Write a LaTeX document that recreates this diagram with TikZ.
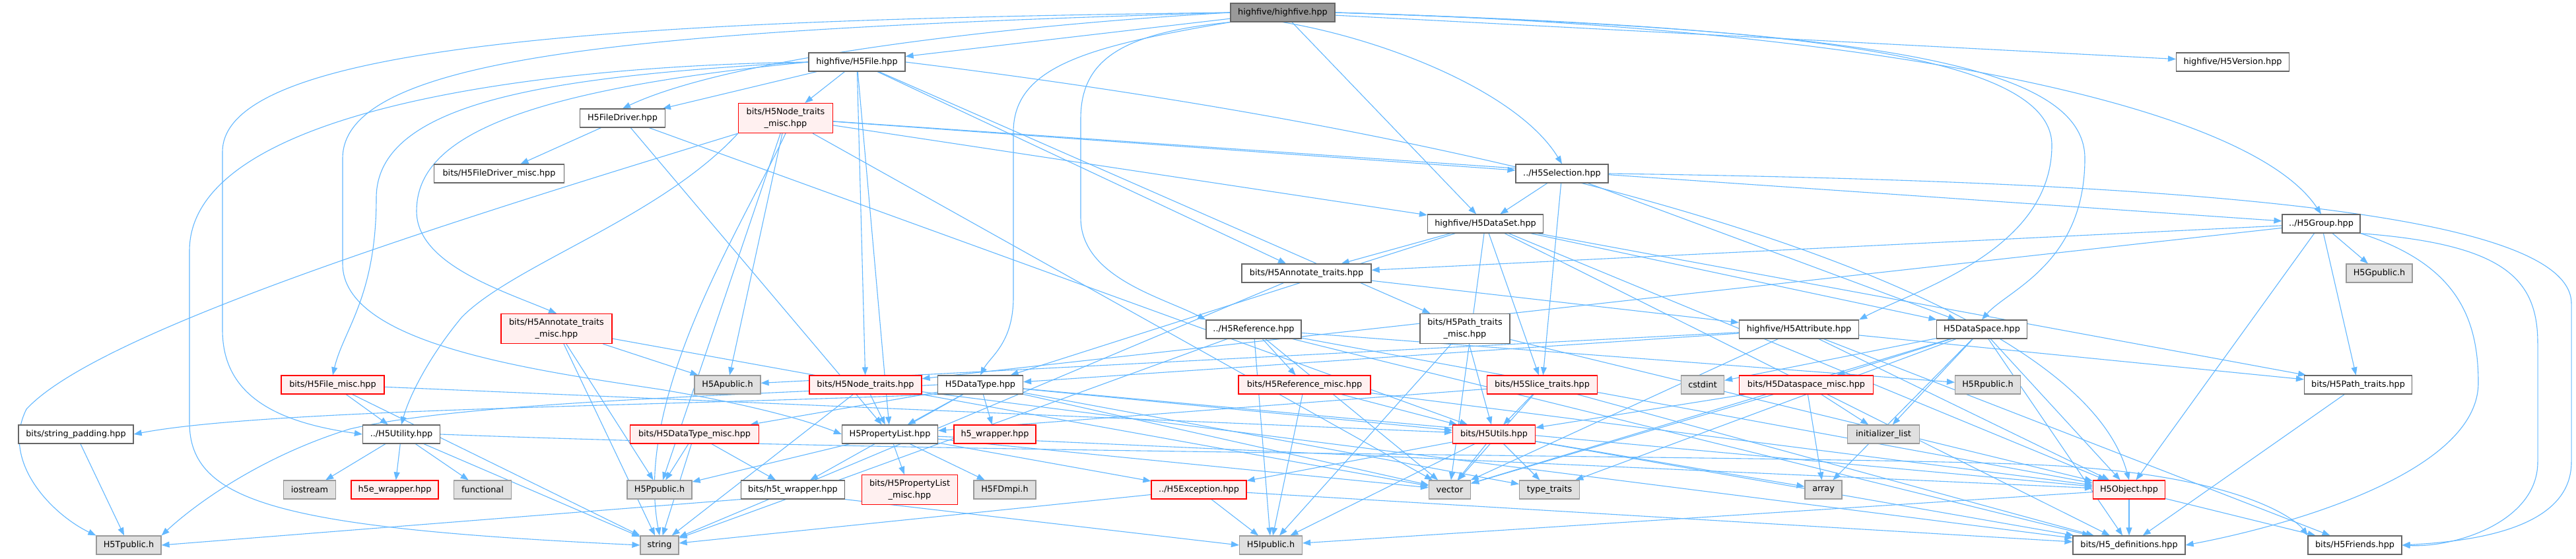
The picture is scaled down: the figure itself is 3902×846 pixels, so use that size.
\documentclass[tikz,border=0pt]{standalone}
\usepackage{fontspec}
\setmainfont{DejaVu Sans}
\usetikzlibrary{arrows.meta,backgrounds}
\definecolor{edgec}{HTML}{63B8FF}
\definecolor{nbord}{HTML}{666666}
\definecolor{gbord}{HTML}{999999}
\definecolor{gfill}{HTML}{E0E0E0}
\definecolor{rfill}{HTML}{FFF0F0}
\definecolor{rbord}{HTML}{FF0000}
\definecolor{rootfill}{HTML}{999999}
\begin{document}
\begin{tikzpicture}[x=1pt,y=-1pt,
  font=\fontsize{12.8}{17.5}\selectfont,
  nb/.style={draw=nbord,fill=white,line width=1.2pt,minimum height=28pt,inner sep=1pt,text=black},
  nred/.style={nb,draw=rbord,fill=rfill},
  ngray/.style={nb,draw=gbord,fill=gfill},
  nroot/.style={nb,fill=rootfill},
  two/.style={minimum height=45pt,align=center},
  e/.style={draw=edgec,line width=1.1pt,-{Triangle[length=12pt,width=9pt]}}]
\useasboundingbox (0,0) rectangle (3902,846);
% row 0
\node[nroot,minimum width=158pt] (root) at (1943,19) {highfive/highfive.hpp};
% row 1
\node[nb,minimum width=146pt] (file) at (1298,94) {highfive/H5File.hpp};
\node[nb,minimum width=171pt] (ver) at (3382,94) {highfive/H5Version.hpp};
% row 2
\node[nred,two,minimum width=143pt] (ntm) at (1190,179) {bits/H5Node\_traits\\\_misc.hpp};
\node[nb,minimum width=129pt] (fdrv) at (943,179) {H5FileDriver.hpp};
% row 3
\node[nb,minimum width=197pt] (fdm) at (756,263) {bits/H5FileDriver\_misc.hpp};
\node[nb,minimum width=140pt] (sel) at (2366,263) {../H5Selection.hpp};
% row 4
\node[nb,minimum width=175pt] (dset) at (2250,339) {highfive/H5DataSet.hpp};
\node[nb,minimum width=118pt] (grp) at (3516,339) {../H5Group.hpp};
% row 5
\node[nb,minimum width=196pt] (at) at (1979,414) {bits/H5Annotate\_traits.hpp};
\node[ngray,minimum width=100pt] (gpub) at (3604,414) {H5Gpublic.h};
% row 6
\node[nred,two,minimum width=168pt] (atm) at (843,498) {bits/H5Annotate\_traits\\\_misc.hpp};
\node[nb,minimum width=144pt] (ref) at (1899,499) {../H5Reference.hpp};
\node[nb,two,minimum width=136pt] (ptm) at (2219,498) {bits/H5Path\_traits\\\_misc.hpp};
\node[nb,minimum width=181pt] (attr) at (2725,499) {highfive/H5Attribute.hpp};
\node[nb,minimum width=137pt] (dspace) at (3002,499) {H5DataSpace.hpp};
% row 7
\node[nred,minimum width=156pt] (filemisc) at (504,583) {bits/H5File\_misc.hpp};
\node[ngray,minimum width=100pt] (apub) at (1102,583) {H5Apublic.h};
\node[nred,minimum width=170pt] (nt) at (1311,583) {bits/H5Node\_traits.hpp};
\node[nb,minimum width=129pt] (dtype) at (1485,583) {H5DataType.hpp};
\node[nred,minimum width=200pt] (refm) at (1976,583) {bits/H5Reference\_misc.hpp};
\node[nred,minimum width=167pt] (slice) at (2336,583) {bits/H5Slice\_traits.hpp};
\node[ngray,minimum width=65pt] (cstdint) at (2579,583) {cstdint};
\node[nred,minimum width=203pt] (dsm) at (2736,583) {bits/H5Dataspace\_misc.hpp};
\node[ngray,minimum width=99pt] (rpub) at (3011,583) {H5Rpublic.h};
\node[nb,minimum width=163pt] (pt) at (3572,583) {bits/H5Path\_traits.hpp};
% row 8
\node[nb,minimum width=174pt] (strpad) at (115,658) {bits/string\_padding.hpp};
\node[nb,minimum width=117pt] (util) at (608,658) {../H5Utility.hpp};
\node[nred,minimum width=195pt] (dtm) at (1052,658) {bits/H5DataType\_misc.hpp};
\node[nb,minimum width=145pt] (plist) at (1348,658) {H5PropertyList.hpp};
\node[nred,minimum width=124pt] (h5w) at (1507,658) {h5\_wrapper.hpp};
\node[nred,minimum width=125pt] (utils) at (2263,658) {bits/H5Utils.hpp};
\node[ngray,minimum width=109pt] (initl) at (2853,658) {initializer\_list};
% row 9
\node[ngray,minimum width=79pt] (iostream) at (469,742) {iostream};
\node[nred,minimum width=132pt] (h5ew) at (598,742) {h5e\_wrapper.hpp};
\node[ngray,minimum width=87pt] (functional) at (731,742) {functional};
\node[ngray,minimum width=98pt] (ppub) at (999,742) {H5Ppublic.h};
\node[nb,minimum width=157pt] (h5tw) at (1201,742) {bits/h5t\_wrapper.hpp};
\node[nred,two,minimum width=145pt] (plm) at (1378,742) {bits/H5PropertyList\\\_misc.hpp};
\node[ngray,minimum width=94pt] (fdmpi) at (1522,742) {H5FDmpi.h};
\node[nred,minimum width=144pt] (exc) at (1816,742) {../H5Exception.hpp};
\node[ngray,minimum width=63pt] (vector) at (2196,742) {vector};
\node[ngray,minimum width=91pt] (tt) at (2347,742) {type\_traits};
\node[ngray,minimum width=56pt] (array) at (2762,742) {array};
\node[nred,minimum width=109pt] (obj) at (3225,742) {H5Object.hpp};
% row 10
\node[ngray,minimum width=98pt] (tpub) at (195,826) {H5Tpublic.h};
\node[ngray,minimum width=58pt] (string) at (999,826) {string};
\node[ngray,minimum width=95pt] (ipub) at (1925,826) {H5Ipublic.h};
\node[nb,minimum width=170pt] (defs) at (3225,826) {bits/H5\_definitions.hpp};
\node[nb,minimum width=142pt] (friends) at (3567,826) {bits/H5Friends.hpp};
\begin{pgfonlayer}{background}
\fill[white] (0,0) rectangle (3902,846);
% routed connectors
\draw[e] (root.west) .. controls (1000,30) and (337,60) .. (337,230) -- (337,500) .. controls (337,600) and (420,640) .. (util.west);
\draw[e] (root.west) .. controls (1000,45) and (519,80) .. (519,240) -- (519,400) .. controls (519,520) and (800,560) .. (1000,590) .. controls (1150,615) and (1230,640) .. (plist.west);
\draw[e] (root.west) .. controls (1500,40) and (1100,90) .. (fdrv.north);
\draw[e] (root.south west) .. controls (1700,50) and (1637,90) .. (1637,180) -- (1637,330) .. controls (1637,420) and (1760,450) .. (ref.north west);
\draw[e] (root.south west) .. controls (1650,70) and (1535,100) .. (1535,200) -- (1535,450) .. controls (1535,520) and (1500,540) .. (dtype.north);
\draw[e] (root.south) .. controls (2100,60) and (2300,140) .. (sel.north);
\draw[e] (root.east) .. controls (2800,40) and (3400,150) .. (grp.north);
\draw[e] (root.east) .. controls (2700,40) and (3108,80) .. (3108,220) .. controls (3108,380) and (2900,440) .. (attr.north east);
\draw[e] (root.east) .. controls (2800,45) and (3158,90) .. (3158,240) .. controls (3158,400) and (3040,440) .. (dspace.north);
\draw[e] (file.west) .. controls (800,100) and (287,170) .. (287,380) -- (287,640) .. controls (287,760) and (420,800) .. (string.west);
\draw[e] (file.west) .. controls (850,115) and (570,150) .. (570,300) .. controls (570,450) and (520,500) .. (filemisc.north);
\draw[e] (file.west) .. controls (750,140) and (631,220) .. (631,320) .. controls (631,400) and (760,440) .. (atm.north);
\draw[e] (file.east) .. controls (2400,220) and (3150,450) .. (obj.north);
\draw[e] (sel.east) .. controls (3300,275) and (3895,320) .. (3895,460) -- (3895,700) .. controls (3895,800) and (3750,820) .. (friends.east);
\draw[e] (grp.south east) .. controls (3790,370) and (3844,420) .. (3844,520) -- (3844,700) .. controls (3844,790) and (3720,830) .. (friends.east);
\draw[e] (grp.south east) .. controls (3720,400) and (3754,480) .. (3754,580) .. controls (3754,720) and (3450,800) .. (defs.east);
\draw[e] (ntm.south west) .. controls (700,330) and (150,500) .. (40,620) .. controls (0,700) and (80,780) .. (tpub.north west);
\draw[e] (ntm.south west) .. controls (1000,330) and (780,400) .. (700,480) .. controls (650,540) and (620,600) .. (util.north);
\draw[e] (ntm.south) .. controls (1120,350) and (960,600) .. (string.north);
\draw[e] (dtype.south west) .. controls (1000,615) and (400,620) .. (strpad.east);
\draw[e] (dtype.west) .. controls (1100,600) and (700,610) .. (530,650) .. controls (400,690) and (300,760) .. (tpub.north east);
\draw[e] (h5tw.south west) -- (tpub.east);
\draw[e] (h5tw.south east) -- (ipub.west);
\draw[e] (util.east) .. controls (1500,690) and (2800,690) .. (3100,705) .. controls (3400,720) and (3480,790) .. (friends.north west);
% straight connectors
\foreach \a/\b in {root/file,root/ver,root/dset,
 file/fdrv,file/ntm,file/plist,file/nt,file/at,file/ptm,
 fdrv/fdm,fdrv/plist,fdrv/utils,
 ntm/sel,ntm/dset,ntm/grp,ntm/ppub,ntm/apub,ntm/vector,
 sel/dset,sel/slice,sel/dspace,
 dset/at,dset/dtype,dset/dspace,dset/obj,dset/slice,dset/pt,dset/vector,dset/defs,
 grp/gpub,grp/at,grp/nt,grp/obj,grp/pt,
 at/attr,at/string,
 atm/string,atm/vector,atm/apub,atm/ppub,
 ref/refm,ref/rpub,ref/ipub,ref/string,ref/obj,ref/defs,ref/vector,
 ptm/ipub,ptm/utils,ptm/obj,
 attr/dtype,attr/apub,attr/vector,attr/obj,attr/pt,attr/friends,
 dspace/cstdint,dspace/dsm,dspace/vector,dspace/tt,dspace/array,dspace/initl,dspace/obj,dspace/defs,
 filemisc/util,filemisc/string,filemisc/utils,
 nt/plist,nt/string,nt/defs,
 dtype/dtm,dtype/plist,dtype/h5w,dtype/h5tw,dtype/vector,dtype/tt,dtype/utils,dtype/obj,
 refm/utils,refm/ipub,refm/obj,
 slice/plist,slice/utils,slice/vector,slice/defs,
 dsm/utils,dsm/initl,dsm/array,dsm/vector,
 pt/defs,strpad/tpub,
 util/iostream,util/h5ew,util/functional,util/string,
 dtm/ppub,dtm/string,dtm/h5tw,
 plist/ppub,plist/plm,plist/fdmpi,plist/exc,plist/vector,plist/obj,
 utils/exc,utils/vector,utils/ipub,utils/tt,utils/array,utils/defs,
 exc/string,exc/ipub,exc/defs,
 obj/ipub,obj/defs,obj/friends}
 {\draw[e] (\a) -- (\b);}
\end{pgfonlayer}
\end{tikzpicture}
\end{document}
